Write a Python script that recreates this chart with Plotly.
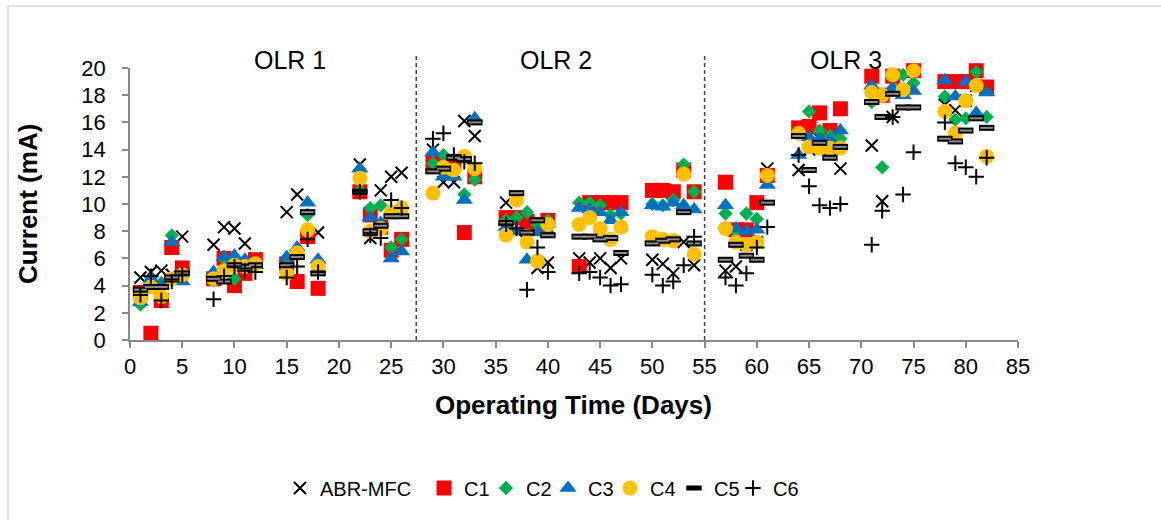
import plotly.graph_objects as go

# Operating days on which current was logged
days = [1, 2, 3, 4, 5, 8, 9, 10, 11, 12, 15, 16, 17, 18, 22, 23, 24, 25, 26,
        29, 30, 31, 32, 33, 36, 37, 38, 39, 40, 43, 44, 45, 46, 47,
        50, 51, 52, 53, 54, 57, 58, 59, 60, 61, 64, 65, 66, 67, 68,
        71, 72, 73, 74, 75, 78, 79, 80, 81, 82]

# Current (mA) per reactor / compartment
abr_mfc = [4.6, 5.0, 5.1, 4.8, 7.6, 7.0, 8.3, 8.2, 7.1, 6.0, 9.4, 10.7, 7.7, 7.9,
           12.9, 7.5, 11.0, 12.0, 12.3, 14.0, 11.6, 11.6, 16.1, 15.0,
           10.1, 8.0, 7.5, 5.3, 5.7, 6.0, 5.7, 6.0, 5.3, 6.0,
           5.9, 5.6, 4.9, 7.2, 5.5, 5.1, 5.4, 7.0, 7.2, 12.6,
           12.5, 14.0, 14.8, 14.0, 12.6, 14.3, 10.2, 16.4, 18.4, 19.8,
           17.3, 16.9, 17.6, 18.7, 18.6]
c1 = [3.5, 0.5, 2.9, 6.8, 5.3, 4.5, 6.0, 4.0, 4.9, 5.9, 5.6, 4.3, 7.6, 3.8,
      10.9, 9.2, 8.3, 6.6, 7.4, 13.0, 12.8, 13.0, 7.9, 12.0,
      9.0, 9.0, 8.7, 8.5, 8.8, 5.4, 10.1, 10.1, 10.1, 10.1,
      11.0, 11.0, 10.9, 12.5, 10.9, 11.6, 8.1, 8.1, 10.1, 12.1,
      15.6, 15.7, 16.7, 15.4, 17.0, 19.4, 18.0, 19.4, 20.1, 19.8,
      19.0, 19.0, 19.0, 19.8, 18.6]
c2 = [2.6, 4.3, 4.2, 7.7, 4.7, 4.4, 6.0, 4.5, 5.3, 5.5, 5.5, 6.5, 9.2, 5.5,
      11.0, 9.7, 9.9, 6.8, 7.4, 13.0, 13.6, 12.5, 10.7, 11.8,
      8.8, 9.0, 9.4, 8.5, 8.8, 10.1, 10.1, 9.9, 9.2, 9.3,
      10.0, 9.9, 10.3, 12.9, 10.9, 9.3, 8.0, 9.3, 8.9, 12.0,
      15.2, 16.8, 15.4, 15.0, 14.8, 17.5, 12.7, 18.5, 19.5, 18.9,
      17.9, 16.2, 16.3, 19.7, 16.4]
c3 = [2.8, 4.5, 4.0, 7.2, 4.3, 5.0, 6.1, 6.2, 5.9, 5.5, 6.1, 6.8, 10.1, 5.9,
      12.6, 9.0, 8.6, 6.0, 6.5, 13.8, 12.0, 12.0, 10.3, 16.3,
      8.3, 8.0, 5.9, 7.9, 8.0, 9.7, 9.6, 9.4, 8.8, 9.4,
      9.9, 9.8, 10.1, 9.9, 9.6, 9.9, 8.2, 8.0, 8.1, 11.4,
      13.6, 14.9, 14.8, 14.7, 15.4, 18.7, 18.0, 18.5, 18.0, 18.3,
      19.1, 17.9, 19.0, 16.7, 18.2]
c4 = [3.1, 3.9, 3.2, 4.5, 4.8, 4.5, 5.1, 5.5, 5.4, 5.6, 4.9, 6.4, 8.1, 5.4,
      11.9, 8.0, 8.2, 9.4, 9.7, 10.8, 12.7, 12.5, 13.5, 12.6,
      7.7, 10.3, 7.2, 5.8, 8.5, 8.5, 9.0, 8.2, 7.4, 8.3,
      7.6, 7.4, 7.3, 12.2, 6.3, 8.2, 7.2, 7.0, 7.2, 12.1,
      15.2, 14.2, 14.1, 14.1, 14.1, 18.2, 18.0, 19.5, 18.4, 19.8,
      16.8, 15.2, 17.6, 18.7, 13.5]
c5 = [3.7, 3.9, 3.9, 4.6, 4.9, 4.5, 4.3, 5.5, 5.4, 5.5, 5.5, 6.1, 9.4, 4.9,
      10.9, 8.0, 8.4, 9.1, 9.1, 12.4, 12.6, 13.4, 13.3, 16.0,
      8.6, 10.8, 7.9, 8.8, 7.7, 7.6, 7.6, 7.4, 7.5, 6.4,
      7.1, 7.3, 7.4, 9.4, 7.1, 5.9, 7.0, 6.2, 5.9, 10.1,
      15.0, 12.5, 14.5, 13.4, 14.2, 17.5, 16.4, 18.1, 17.1, 17.1,
      14.8, 14.6, 15.4, 16.3, 15.6]
c6 = [3.3, 4.7, 2.9, 4.3, 4.8, 3.0, 4.7, 5.4, 5.1, 5.0, 4.6, 5.4, 7.4, 5.0,
      10.9, 7.7, 7.5, 10.3, 9.7, 14.8, 15.2, 13.6, 13.1, 13.0,
      8.5, 8.2, 3.7, 6.8, 5.0, 4.9, 5.0, 4.6, 4.0, 4.1,
      4.8, 4.0, 4.3, 5.5, 7.6, 4.6, 4.0, 4.9, 6.8, 8.3,
      13.6, 11.3, 9.9, 9.7, 10.0, 7.0, 9.5, 16.4, 10.7, 13.8,
      16.0, 13.0, 12.7, 12.0, 13.4]

x_ticks = list(range(0, 90, 5))
y_ticks = list(range(0, 22, 2))
phase_labels = ["OLR 1", "OLR 2", "OLR 3"]
phase_label_days = [15.3, 40.8, 68.5]
phase_bounds = [27.4, 55.0]

FONT = "Liberation Sans, Arial, sans-serif"
AX = "#898989"

# plot area in pixels
L, R, T, B = 130, 143, 68, 180
W, H = 1161, 520
pw, ph = W - L - R, H - T - B


def px_x(p):
    return (p - L) / pw


def px_y(p):
    return (H - B - p) / ph


fig = go.Figure()

series = [
    ("ABR-MFC", abr_mfc, dict(symbol="x-thin", size=12, color="black",
                              line=dict(width=2, color="black"))),
    ("C1", c1, dict(symbol="square", size=15, color="#FF0000", line=dict(width=0))),
    ("C2", c2, dict(symbol="diamond", size=11, color="#00B050", line=dict(width=0))),
    ("C3", c3, dict(symbol="triangle-up", size=15, color="#0070C0", line=dict(width=0))),
    ("C4", c4, dict(symbol="circle", size=15, color="#FFC000", line=dict(width=0))),
    ("C5", c5, dict(symbol="line-ew", size=11, color="black",
                    line=dict(width=6, color="black"))),
    ("C6", c6, dict(symbol="cross-thin", size=11, color="black",
                    line=dict(width=2, color="black"))),
]

legend_sym_px = [302, 446, 508, 570, 632, 696, 755]

for i, (name, vals, mk) in enumerate(series):
    lg = "legend" if i == 0 else f"legend{i + 1}"
    fig.add_trace(go.Scatter(x=days, y=vals, mode="markers", name=name,
                             marker=mk, cliponaxis=False, legend=lg,
                             legendgroup=name))
    if name == "C5":
        # grey core of the bar marker
        fig.add_trace(go.Scatter(x=days, y=vals, mode="markers", name=name,
                                 marker=dict(symbol="line-ew", size=9,
                                             line=dict(width=2, color="#8c8c8c")),
                                 cliponaxis=False, showlegend=False,
                                 legendgroup=name, hoverinfo="skip"))

legend_layout = {}
for i, sx in enumerate(legend_sym_px):
    key = "legend" if i == 0 else f"legend{i + 1}"
    legend_layout[key] = dict(
        x=px_x(sx - 22), y=px_y(488), xanchor="left", yanchor="middle",
        orientation="h", bgcolor="rgba(0,0,0,0)",
        font=dict(family=FONT, size=20, color="black"),
        itemsizing="trace",
    )

shapes = []
# chart frame
shapes.append(dict(type="rect", xref="paper", yref="paper",
                   x0=px_x(8), x1=px_x(1175), y0=px_y(535), y1=px_y(6),
                   line=dict(color="#d9d9d9", width=1.5), layer="below"))
for b in phase_bounds:
    shapes.append(dict(type="line", xref="x", yref="paper", x0=b, x1=b,
                       y0=0, y1=px_y(55),
                       line=dict(color="#404040", width=1.5, dash="4px,3px")))

annotations = []
for lab, d in zip(phase_labels, phase_label_days):
    annotations.append(dict(x=d, y=px_y(60), xref="x", yref="paper", text=lab,
                            showarrow=False, xanchor="center", yanchor="middle",
                            font=dict(family=FONT, size=25, color="black")))
annotations.append(dict(x=px_x(28), y=0.5, xref="paper", yref="paper",
                        text="<b>Current (mA)</b>", textangle=-90, showarrow=False,
                        xanchor="center", yanchor="middle",
                        font=dict(family=FONT, size=26, color="black")))
annotations.append(dict(x=px_x(573), y=px_y(405), xref="paper", yref="paper",
                        text="<b>Operating Time (Days)</b>", showarrow=False,
                        xanchor="center", yanchor="middle",
                        font=dict(family=FONT, size=26, color="black")))

fig.update_layout(
    width=W, height=H,
    margin=dict(l=L, r=R, t=T, b=B, pad=0),
    paper_bgcolor="white", plot_bgcolor="white",
    shapes=shapes, annotations=annotations,
    showlegend=True,
    **legend_layout,
)

fig.update_xaxes(range=[0, 85], tickvals=x_ticks, ticktext=[str(v) for v in x_ticks],
                 showgrid=False, zeroline=False, showline=True, linecolor=AX,
                 linewidth=1.5, ticks="outside", ticklen=6, tickcolor=AX,
                 tickwidth=1.5, tickfont=dict(family=FONT, size=22, color="black"))
fig.update_yaxes(range=[0, 20], tickvals=y_ticks, ticktext=[str(v) for v in y_ticks],
                 showgrid=False, zeroline=False, showline=True, linecolor=AX,
                 linewidth=1.5, ticks="outside", ticklen=6, tickcolor=AX,
                 tickwidth=1.5, ticklabelstandoff=12,
                 tickfont=dict(family=FONT, size=22, color="black"))

fig.write_html("out.html")
